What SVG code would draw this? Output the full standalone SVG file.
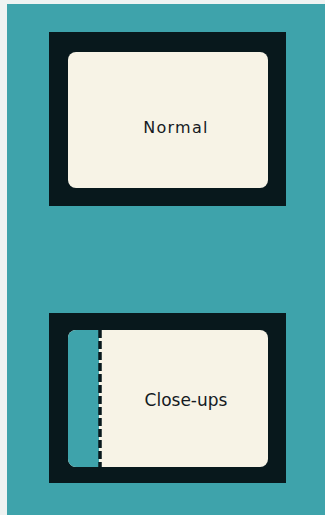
<svg xmlns="http://www.w3.org/2000/svg" width="325" height="515" viewBox="0 0 325 515">
<style>
.frame{fill:#08181c}
.screen{fill:#f7f3e6}
.teal{fill:#3ea3ab}
.lbl{font-family:"DejaVu Sans","Liberation Sans",sans-serif;fill:#151a1f;text-anchor:middle}
.dash{stroke:#08181c;stroke-width:3.5;stroke-dasharray:8 3;fill:none}
</style>
<rect x="0" y="0" width="325" height="515" fill="#eef3f2"/>
<rect x="7" y="4" width="318" height="511" class="teal"/>
<g id="normal">
<rect x="49" y="32" width="237" height="174" class="frame"/>
<rect x="68" y="52" width="200" height="136" rx="8" class="screen"/>
<text x="176" y="133" class="lbl" font-size="16" letter-spacing="1.3">Normal</text>
</g>
<g id="closeups">
<rect x="49" y="313" width="237" height="170" class="frame"/>
<rect x="68" y="330" width="200" height="137" rx="8" class="screen"/>
<path d="M76,330 H99 V467 H76 A8,8 0 0 1 68,459 V338 A8,8 0 0 1 76,330 Z" class="teal"/>
<text x="186" y="406" class="lbl" font-size="17">Close-ups</text>
</g>
<g id="connectors">
<line x1="100" y1="330" x2="100" y2="467" class="dash"/>
</g>
</svg>
